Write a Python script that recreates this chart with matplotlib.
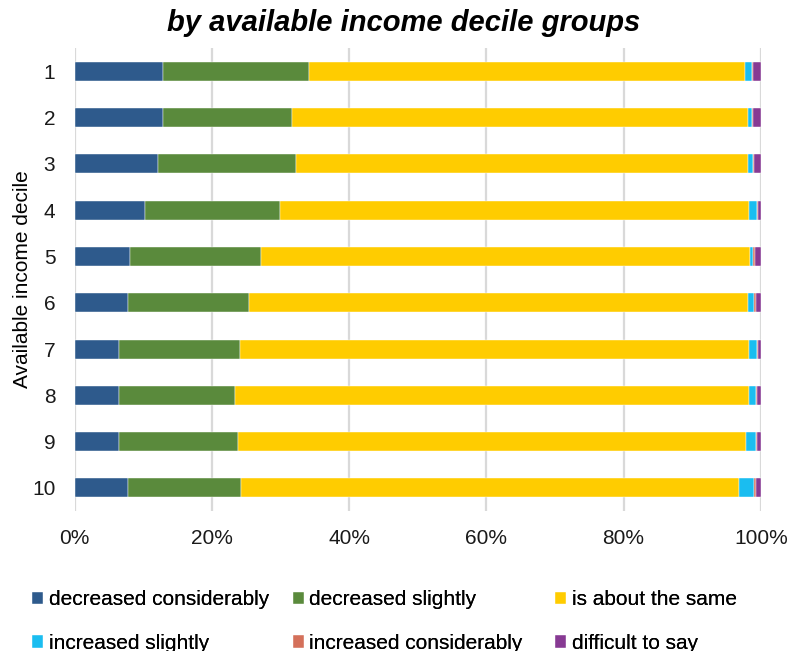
import matplotlib.pyplot as plt
import numpy as np

plt.rcParams['font.family'] = ['Liberation Sans', 'DejaVu Sans']

deciles = ['1', '2', '3', '4', '5', '6', '7', '8', '9', '10']
categories = ['decreased considerably', 'decreased slightly', 'is about the same',
              'increased slightly', 'increased considerably', 'difficult to say']

dec_consid = [12.8, 12.8, 12.2, 10.3, 8.1, 7.7, 6.5, 6.5, 6.4, 7.8]
dec_slight = [21.3, 18.8, 20.1, 19.6, 19.1, 17.7, 17.6, 16.8, 17.4, 16.5]
same = [63.6, 66.6, 65.8, 68.4, 71.2, 72.8, 74.2, 75.0, 74.1, 72.5]
inc_slight = [1.0, 0.5, 0.8, 1.1, 0.5, 0.8, 1.1, 1.0, 1.4, 2.2]
inc_consid = [0.2, 0.1, 0.1, 0.15, 0.3, 0.25, 0.15, 0.2, 0.2, 0.3]
hard_say = [1.1, 1.2, 1.0, 0.45, 0.8, 0.75, 0.45, 0.5, 0.5, 0.7]

colors = ['#2E5A8C', '#5A8A3C', '#FFCC00', '#1ABDF0', '#D4705A', '#873A93']
series = [dec_consid, dec_slight, same, inc_slight, inc_consid, hard_say]

fig = plt.figure(figsize=(7.9, 6.51), dpi=100)
ax = fig.add_axes([0.0946, 0.215, 0.8684, 0.711])

y = np.arange(len(deciles))
left = np.zeros(len(deciles))
handles = []
for vals, col, name in zip(series, colors, categories):
    vals = np.array(vals)
    b = ax.barh(y, vals, left=left, height=0.41, color=col, label=name,
                edgecolor='white', linewidth=0.3)
    handles.append(b)
    left += vals

ax.set_xlim(0, 100)
ax.set_ylim(len(deciles) - 0.5, -0.5)
ax.set_yticks(y)
ax.set_yticklabels(deciles)
ax.set_xticks(np.arange(0, 101, 20))
ax.set_xticklabels([f'{v}%' for v in range(0, 101, 20)])
ax.tick_params(axis='both', length=0, labelsize=15, colors='#1a1a1a')
ax.tick_params(axis='x', pad=13)
ax.tick_params(axis='y', pad=14)
ax.xaxis.grid(True, color='#D9D9D9', linewidth=1.6)
ax.set_axisbelow(True)
for s in ['top', 'right', 'bottom', 'left']:
    ax.spines[s].set_visible(False)
ax.set_ylabel('Available income decile', fontsize=15, labelpad=0)

fig.text(0.511, 0.965, 'by available income decile groups', fontsize=21,
         fontweight='bold', fontstyle='italic', ha='center', va='center')

# one legend per column, two rows each
col_x = [0.030, 0.360, 0.692]
for c in range(3):
    idx = [c, c + 3]
    leg = fig.legend([handles[i] for i in idx], [categories[i] for i in idx],
                     ncol=1, loc='lower left', bbox_to_anchor=(col_x[c], -0.016),
                     frameon=False, fontsize=15, handlelength=0.55, handleheight=0.55,
                     handletextpad=0.25, labelspacing=1.18, borderaxespad=0.0,
                     borderpad=0.4)
    fig.add_artist(leg)

fig.savefig('out.png', dpi=100)
